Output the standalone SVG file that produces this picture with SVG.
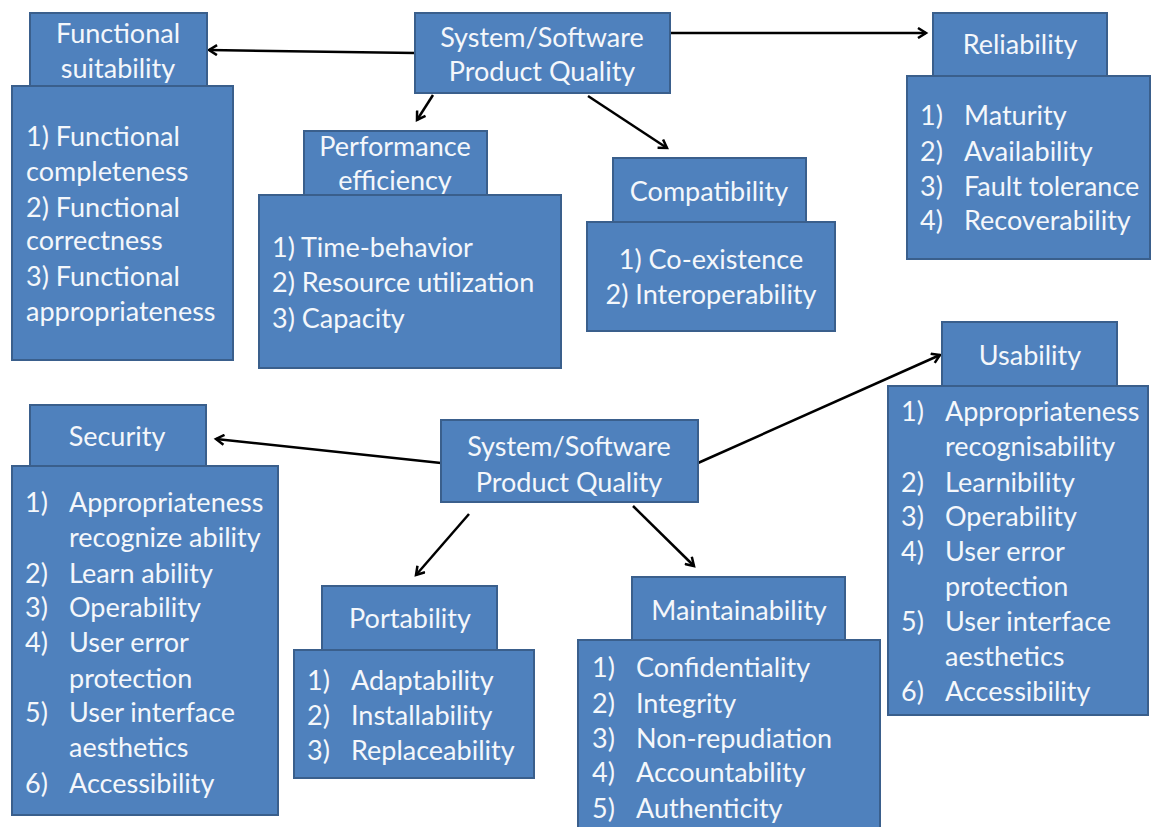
<svg xmlns="http://www.w3.org/2000/svg" width="1152" height="827" viewBox="0 0 1152 827">
  <style>
    .box { fill: #4f81bd; stroke: #3a5f8c; stroke-width: 2; }
    text { font-family: Lato, "Open Sans", "Liberation Sans", sans-serif; font-size: 27px; fill: #f4f7fb; }
    .c { text-anchor: middle; }
    .conn { stroke: #000; stroke-width: 2.5; fill: none; marker-end: url(#arrow); }
  </style>
  <defs>
    <marker id="arrow" markerWidth="12" markerHeight="12" refX="9" refY="6" orient="auto" markerUnits="userSpaceOnUse">
      <path d="M1,1 L9,6 L1,11" fill="none" stroke="#000" stroke-width="2.5"/>
    </marker>
  </defs>
  <rect width="1152" height="827" fill="#fff"/>

  <g id="connectors">
    <line class="conn" x1="415" y1="53" x2="209" y2="50"/>
    <line class="conn" x1="670" y1="33" x2="926" y2="33"/>
    <line class="conn" x1="433" y1="95" x2="417" y2="120"/>
    <line class="conn" x1="588" y1="96" x2="667" y2="148"/>
    <line class="conn" x1="441" y1="463" x2="216" y2="439"/>
    <line class="conn" x1="698" y1="463" x2="940" y2="355"/>
    <line class="conn" x1="469" y1="514" x2="416" y2="575"/>
    <line class="conn" x1="633" y1="506" x2="694" y2="566"/>
  </g>

  <g id="quality-top">
    <rect class="box" x="415" y="13" width="255" height="80"/>
    <text class="c" x="542" y="47">System/Software</text>
    <text class="c" x="542" y="81">Product Quality</text>
  </g>

  <g id="functional-suitability">
    <rect class="box" x="30" y="13" width="177" height="73"/>
    <text class="c" x="118" y="43">Functional</text>
    <text class="c" x="118" y="78">suitability</text>
    <rect class="box" x="12" y="86" width="221" height="274"/>
    <text x="26" y="146">1) Functional</text>
    <text x="26" y="181">completeness</text>
    <text x="26" y="217">2) Functional</text>
    <text x="26" y="250">correctness</text>
    <text x="26" y="286">3) Functional</text>
    <text x="26" y="321">appropriateness</text>
  </g>

  <g id="performance-efficiency">
    <rect class="box" x="304" y="131" width="183" height="65"/>
    <text class="c" x="395" y="156">Performance</text>
    <text class="c" x="395" y="190">efficiency</text>
    <rect class="box" x="259" y="195" width="302" height="173"/>
    <text x="272" y="257">1) Time-behavior</text>
    <text x="272" y="292">2) Resource utilization</text>
    <text x="272" y="328">3) Capacity</text>
  </g>

  <g id="compatibility">
    <rect class="box" x="613" y="158" width="193" height="66"/>
    <text class="c" x="709" y="201">Compatibility</text>
    <rect class="box" x="587" y="222" width="248" height="109"/>
    <text class="c" x="711" y="269">1) Co-existence</text>
    <text class="c" x="711" y="304">2) Interoperability</text>
  </g>

  <g id="reliability">
    <rect class="box" x="933" y="13" width="174" height="64"/>
    <text class="c" x="1020" y="54">Reliability</text>
    <rect class="box" x="907" y="76" width="243" height="183"/>
    <text x="920" y="125">1)</text><text x="964" y="125">Maturity</text>
    <text x="920" y="161">2)</text><text x="964" y="161">Availability</text>
    <text x="920" y="196">3)</text><text x="964" y="196">Fault tolerance</text>
    <text x="920" y="230">4)</text><text x="964" y="230">Recoverability</text>
  </g>

  <g id="usability">
    <rect class="box" x="942" y="322" width="175" height="65"/>
    <text class="c" x="1030" y="365">Usability</text>
    <rect class="box" x="888" y="386" width="260" height="329"/>
    <text x="901" y="421">1)</text><text x="945" y="421">Appropriateness</text>
    <text x="945" y="456">recognisability</text>
    <text x="901" y="492">2)</text><text x="945" y="492">Learnibility</text>
    <text x="901" y="526">3)</text><text x="945" y="526">Operability</text>
    <text x="901" y="561">4)</text><text x="945" y="561">User error</text>
    <text x="945" y="596">protection</text>
    <text x="901" y="631">5)</text><text x="945" y="631">User interface</text>
    <text x="945" y="666">aesthetics</text>
    <text x="901" y="701">6)</text><text x="945" y="701">Accessibility</text>
  </g>

  <g id="quality-bottom">
    <rect class="box" x="441" y="420" width="257" height="82"/>
    <text class="c" x="569" y="456">System/Software</text>
    <text class="c" x="569" y="492">Product Quality</text>
  </g>

  <g id="security">
    <rect class="box" x="30" y="405" width="176" height="62"/>
    <text class="c" x="117" y="446">Security</text>
    <rect class="box" x="12" y="466" width="266" height="349"/>
    <text x="25" y="512">1)</text><text x="69" y="512">Appropriateness</text>
    <text x="69" y="547">recognize ability</text>
    <text x="25" y="583">2)</text><text x="69" y="583">Learn ability</text>
    <text x="25" y="617">3)</text><text x="69" y="617">Operability</text>
    <text x="25" y="652">4)</text><text x="69" y="652">User error</text>
    <text x="69" y="688">protection</text>
    <text x="25" y="722">5)</text><text x="69" y="722">User interface</text>
    <text x="69" y="757">aesthetics</text>
    <text x="25" y="793">6)</text><text x="69" y="793">Accessibility</text>
  </g>

  <g id="portability">
    <rect class="box" x="322" y="586" width="175" height="65"/>
    <text class="c" x="410" y="628">Portability</text>
    <rect class="box" x="294" y="650" width="240" height="128"/>
    <text x="307" y="690">1)</text><text x="351" y="690">Adaptability</text>
    <text x="307" y="725">2)</text><text x="351" y="725">Installability</text>
    <text x="307" y="760">3)</text><text x="351" y="760">Replaceability</text>
  </g>

  <g id="maintainability">
    <rect class="box" x="632" y="577" width="213" height="64"/>
    <text class="c" x="739" y="620">Maintainability</text>
    <rect class="box" x="578" y="640" width="302" height="200"/>
    <text x="592" y="677">1)</text><text x="636" y="677">Confidentiality</text>
    <text x="592" y="713">2)</text><text x="636" y="713">Integrity</text>
    <text x="592" y="748">3)</text><text x="636" y="748">Non-repudiation</text>
    <text x="592" y="782">4)</text><text x="636" y="782">Accountability</text>
    <text x="592" y="818">5)</text><text x="636" y="818">Authenticity</text>
  </g>
</svg>
